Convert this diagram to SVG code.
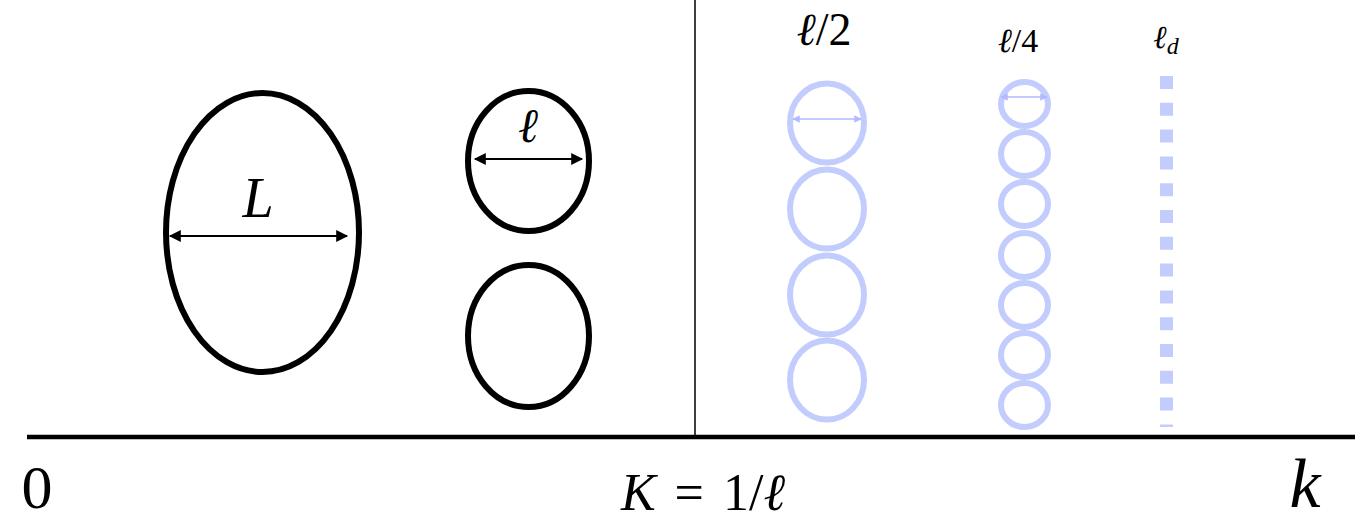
<svg xmlns="http://www.w3.org/2000/svg" width="1355" height="521" viewBox="0 0 1355 521">
<style>
.blk{fill:none;stroke:#000;stroke-width:6}
.blu{fill:none;stroke:#c3cdfd;stroke-width:6}
.arr{stroke:#000;stroke-width:2;marker-start:url(#ah);marker-end:url(#ah)}
.barr{stroke:#b3b9ff;stroke-width:1.5;marker-start:url(#bh);marker-end:url(#bh)}
.tx{font-family:"Liberation Serif","DejaVu Serif",serif;fill:#000;text-anchor:middle}
.it{font-style:italic}
.ell{font-family:"DejaVu Serif",serif;font-style:italic}
</style>
<defs>
<marker id="ah" viewBox="0 0 10 10" refX="9" refY="5" markerWidth="7" markerHeight="6" orient="auto-start-reverse" markerUnits="strokeWidth">
<path d="M0,0 L10,5 L0,10 z" fill="#000"/>
</marker>
<marker id="bh" viewBox="0 0 10 10" refX="9" refY="5" markerWidth="5" markerHeight="5" orient="auto-start-reverse" markerUnits="strokeWidth">
<path d="M0,0 L10,5 L0,10 z" fill="#b3b9ff"/>
</marker>
</defs>
<g id="axes">
<line x1="27" y1="437" x2="1355" y2="437" stroke="#000" stroke-width="4.5"/>
<line x1="695" y1="0" x2="695" y2="437" stroke="#000" stroke-width="1.5"/>
</g>
<g id="node-L">
<ellipse class="blk" cx="262.5" cy="232.5" rx="96.5" ry="139.5"/>
<text class="tx it" x="258" y="217" font-size="56">L</text>
</g>
<g id="node-l-top">
<ellipse class="blk" cx="528.5" cy="161" rx="60.5" ry="70"/>
<text class="tx ell" x="528" y="142" font-size="48">ℓ</text>
</g>
<g id="node-l-bottom">
<ellipse class="blk" cx="528.5" cy="336" rx="60.5" ry="71"/>
</g>
<g id="node-l2">
<ellipse class="blu" cx="827" cy="123" rx="37" ry="39.5"/>
<ellipse class="blu" cx="827" cy="209" rx="37" ry="39.5"/>
<ellipse class="blu" cx="827" cy="295" rx="37" ry="39.5"/>
<ellipse class="blu" cx="827" cy="380" rx="37" ry="39.5"/>
<text class="tx" x="824" y="45" font-size="46"><tspan class="ell">ℓ</tspan>/2</text>
</g>
<g id="node-l4">
<ellipse class="blu" cx="1024.5" cy="104" rx="23.5" ry="22"/>
<ellipse class="blu" cx="1024.5" cy="154" rx="23.5" ry="22"/>
<ellipse class="blu" cx="1024.5" cy="204" rx="23.5" ry="22"/>
<ellipse class="blu" cx="1024.5" cy="255" rx="23.5" ry="22"/>
<ellipse class="blu" cx="1024.5" cy="305" rx="23.5" ry="22"/>
<ellipse class="blu" cx="1024.5" cy="355" rx="23.5" ry="22"/>
<ellipse class="blu" cx="1024.5" cy="405" rx="23.5" ry="22"/>
<text class="tx" x="1018" y="52" font-size="34"><tspan class="ell">ℓ</tspan>/4</text>
</g>
<g id="node-ld">
<line x1="1166.5" y1="76" x2="1166.5" y2="427" stroke="#c3cdfd" stroke-width="13" stroke-dasharray="13 13.8"/>
<text class="tx" x="1166" y="48" font-size="32"><tspan class="ell">ℓ</tspan><tspan font-size="24" dy="6" class="it">d</tspan></text>
</g>
<g id="connectors">
<line class="arr" x1="170" y1="236" x2="347" y2="236"/>
<line class="arr" x1="475" y1="159" x2="582" y2="159"/>
<line class="barr" x1="793" y1="119" x2="861" y2="119"/>
<line class="barr" x1="1001" y1="97" x2="1047" y2="97"/>
</g>
<g id="labels">
<text class="tx" x="37" y="508" font-size="62">0</text>
<text class="tx" x="703" y="510" font-size="52" style="word-spacing:6px"><tspan class="it">K</tspan> = 1/<tspan class="ell">ℓ</tspan></text>
<text class="tx it" x="1305" y="507" font-size="70">k</text>
</g>
</svg>
